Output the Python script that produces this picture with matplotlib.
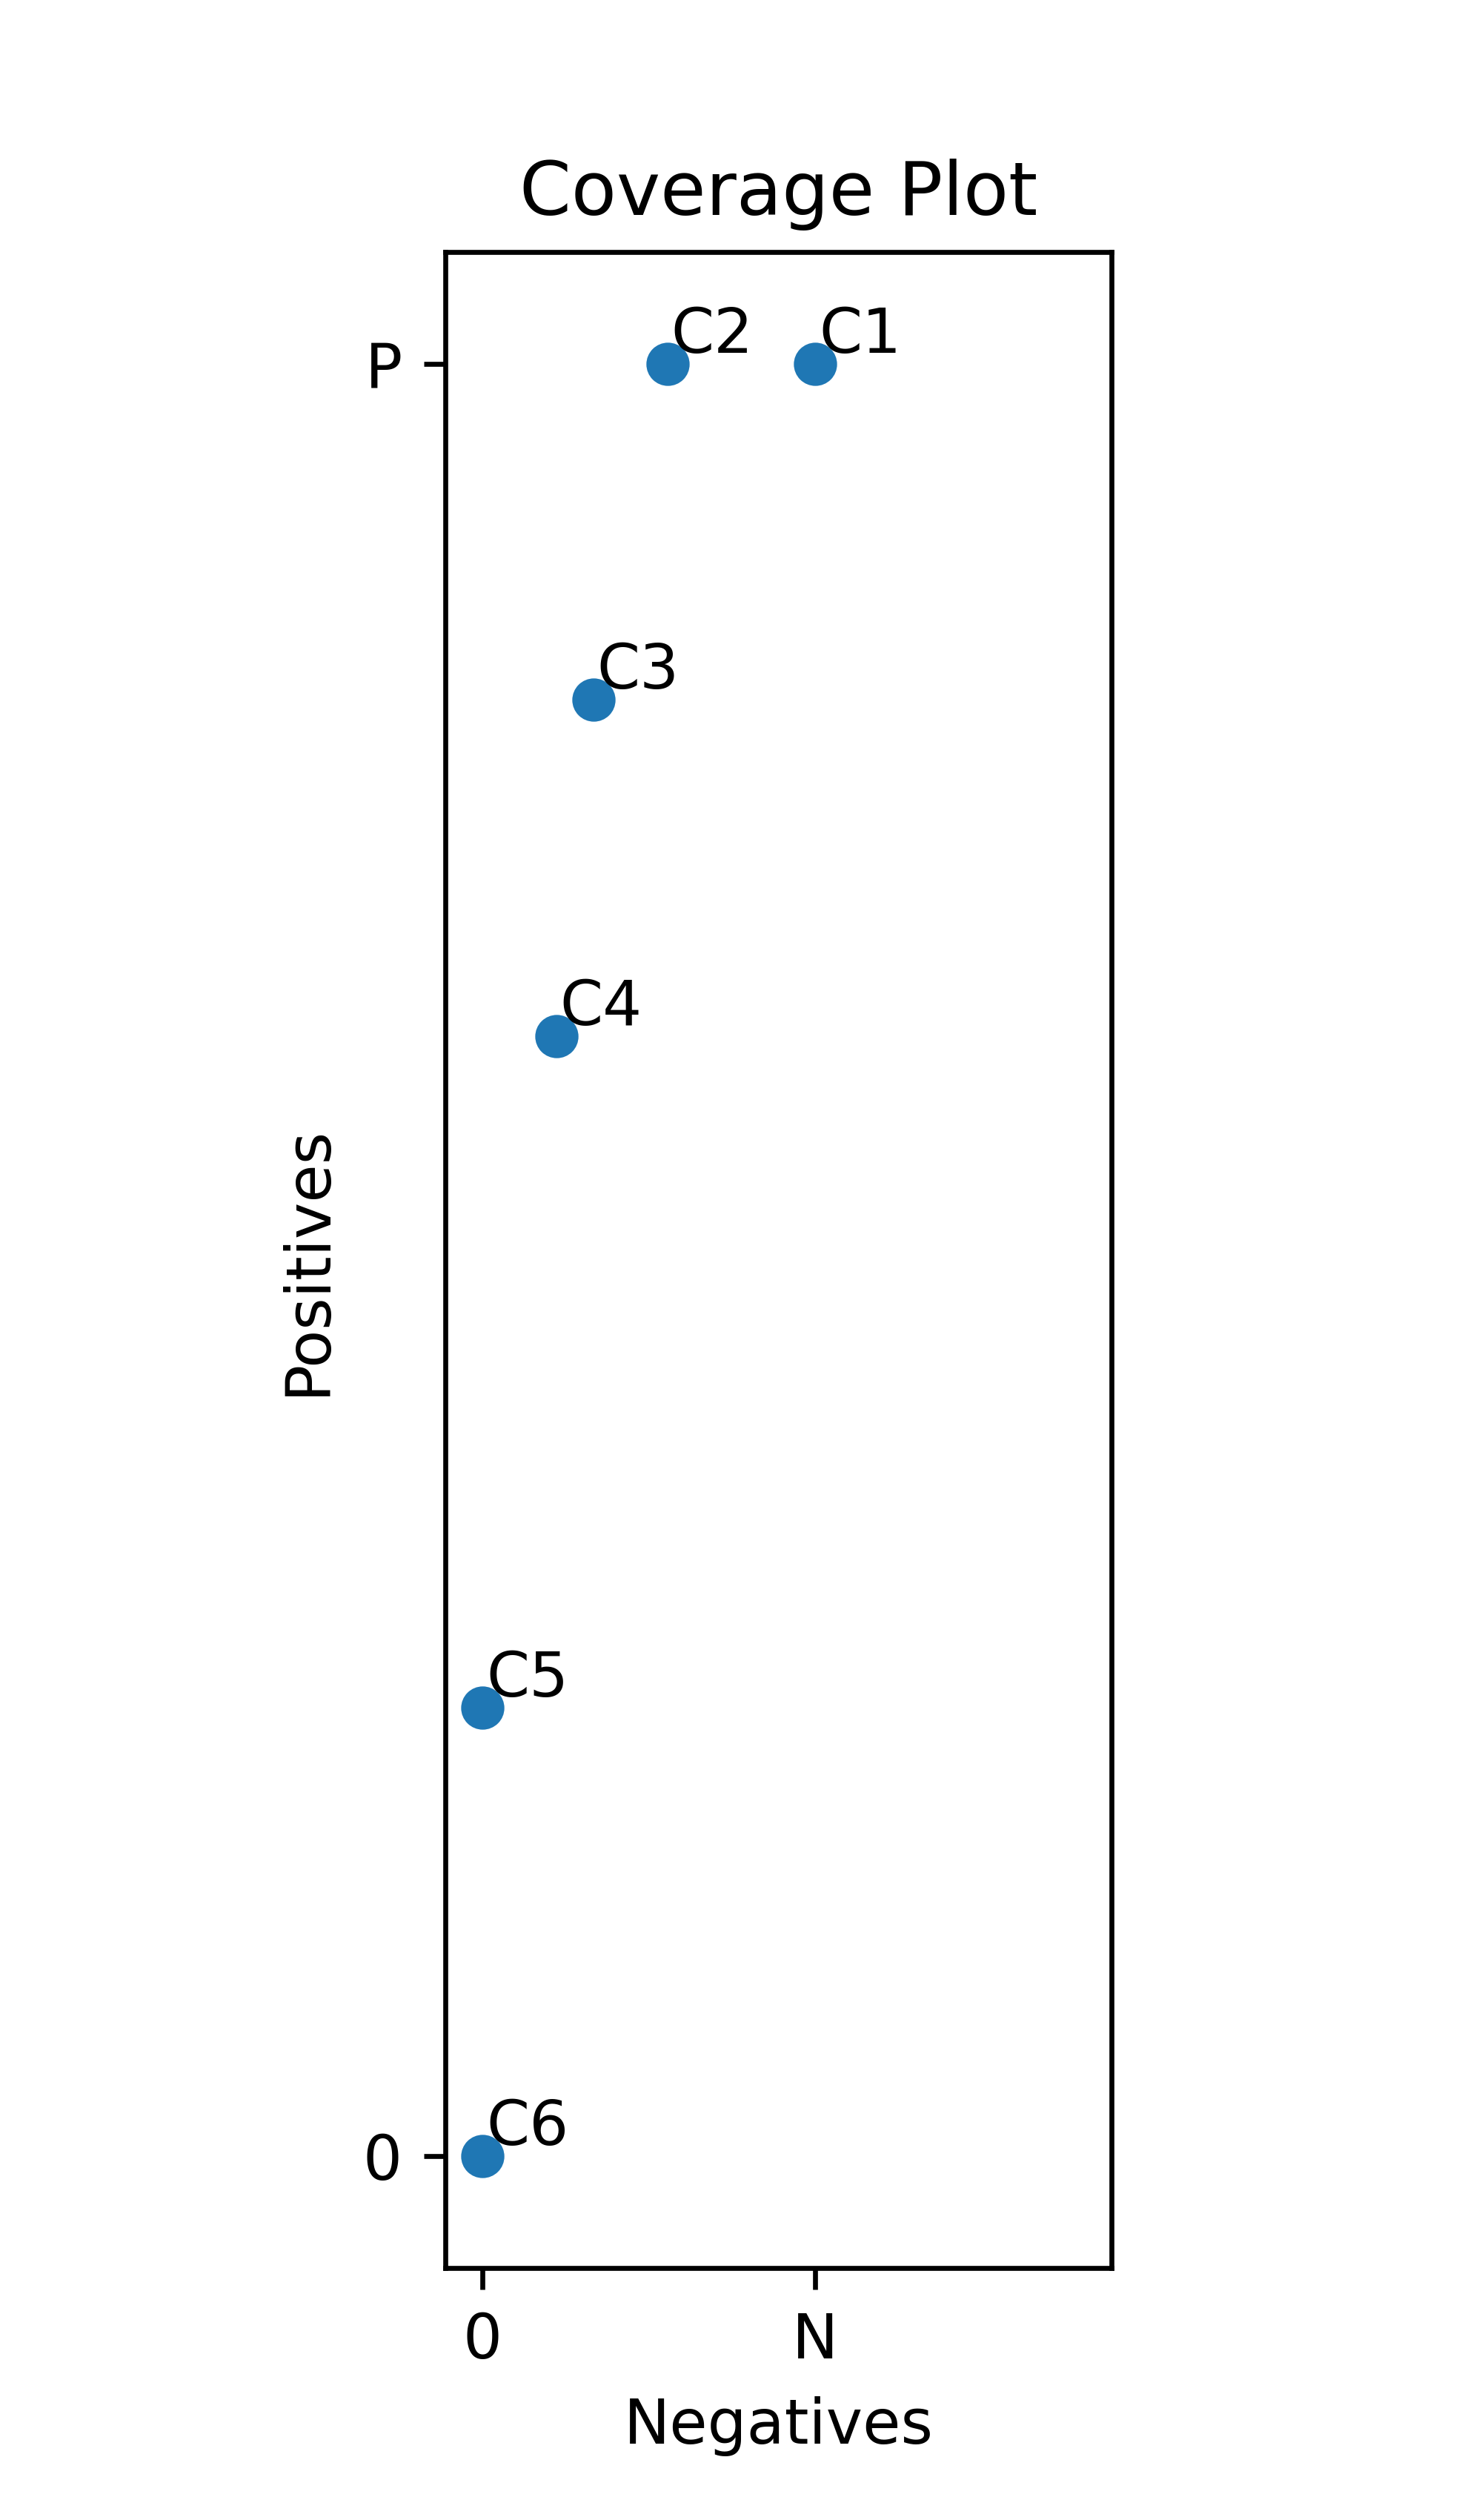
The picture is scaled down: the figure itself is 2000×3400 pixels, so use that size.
import matplotlib
matplotlib.use('Agg')
import matplotlib.pyplot as plt

### data ###
names=['C1','C2','C3','C4','C5','C6']
negatives=[9,5,3,2,0,0]
positives=[16,16,13,10,4,0]
N=9
P=16

def plotCoverage(outfile):
	fig=plt.figure(figsize=(2000/600.,3400/600.),dpi=600)
	ax=fig.add_axes([0.3005,0.1,0.4495,0.8])
	ax.plot(negatives,positives,'o')
	for name,x,y in zip(names,negatives,positives):
		ax.text(x+0.1,y+0.1,name)
	ax.set_xlim(-1,P+1)
	ax.set_ylim(-1,P+1)
	ax.set_xticks([0,N])
	ax.set_xticklabels(['0','N'])
	ax.set_yticks([0,P])
	ax.set_yticklabels(['0','P'])
	ax.set_xlabel('Negatives')
	ax.set_ylabel('Positives')
	ax.set_title('Coverage Plot')
	fig.savefig(outfile,dpi=600)

if __name__=="__main__":
	plotCoverage('out.png')
